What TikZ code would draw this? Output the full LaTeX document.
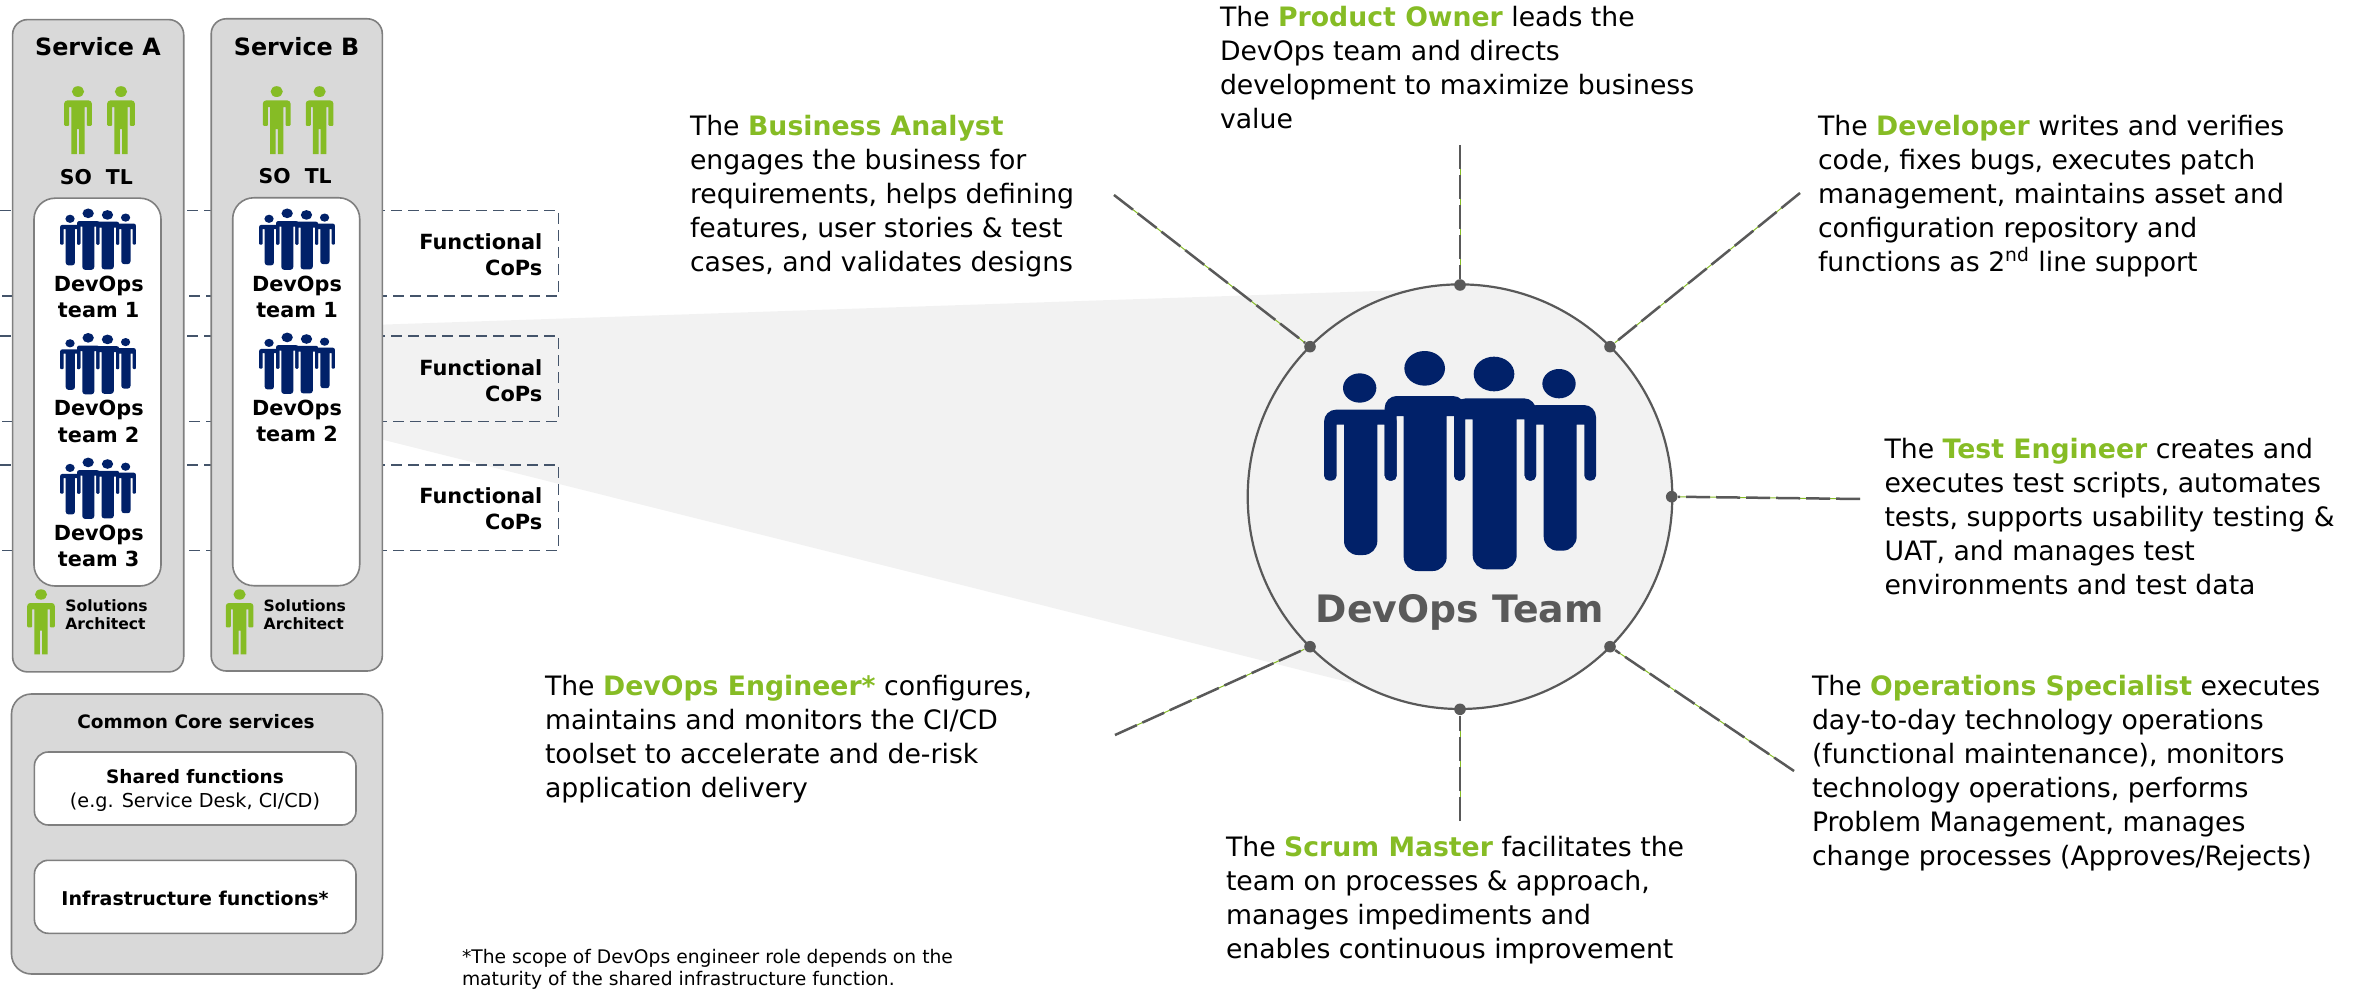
\documentclass[tikz,border=0pt]{standalone}
\usepackage{fontspec}
\setmainfont{DejaVu Sans}
\definecolor{gr}{HTML}{86BC25}
\definecolor{navy}{HTML}{012169}
\definecolor{dk}{HTML}{595959}
\definecolor{panel}{HTML}{D9D9D9}
\definecolor{pale}{HTML}{F2F2F2}
\definecolor{edge}{HTML}{7F7F7F}
\definecolor{cop}{HTML}{44546A}
\newcommand{\fsz}[2]{\fontsize{#1}{#2}\selectfont}
\newcommand{\hl}[1]{\textbf{\textcolor{gr}{#1}}}
\newcommand{\person}[9]{% aLo aLi tL tR aRi aRo shoulder armpit bottom
 \fill (#1,640) [rounded corners=\rs] -- (#1,#7) -- (#6,#7) [sharp corners] -- (#6,640) [rounded corners=\ra] -- (#6,692) -- (#5,692) [sharp corners] -- (#5,#8) -- (#4,#8) [rounded corners=\rb] -- (#4,#9) -- (#3,#9) [sharp corners] -- (#3,#8) -- (#2,#8) [rounded corners=\ra] -- (#2,692) -- (#1,692) [sharp corners] -- cycle;
}
% \teamicon{origin x}{origin y}{unit}{rs}{ra}{rb}
\newcommand{\teamicon}[6]{%
 \begin{scope}[shift={(#1,#2)},x=#3,y=-#3,fill=navy]
  \def\rs{#4}\def\ra{#5}\def\rb{#6}
  \fill (479,414) ellipse [x radius=50,y radius=44];
  \fill (674,355) ellipse [x radius=61,y radius=52];
  \fill (882,372) ellipse [x radius=61,y radius=52];
  \fill (1077,401) ellipse [x radius=50,y radius=44];
  \person{372}{410}{432}{532}{554}{590}{479}{524}{915}
  \person{554}{590}{611}{740}{762}{795}{438}{498}{963}
  \person{762}{795}{818}{950}{974}{1008}{445}{508}{958}
  \person{974}{1008}{1031}{1130}{1153}{1188}{465}{524}{902}
 \end{scope}}
\newcommand{\smallteam}[2]{\teamicon{#1}{#2}{0.04645pt}{1.1pt}{.5pt}{1.4pt}}
% \greenperson{centre x}{top y}{y scale}
\newcommand{\greenperson}[3]{%
 \begin{scope}[shift={(#1,#2)},yscale=#3]
  \fill[gr] (0,5.4) ellipse [x radius=6.1,y radius=5.4];
  \fill[gr] (-13.8,30) [rounded corners=1.5pt] -- (-13.8,14.3) -- (13.8,14.3) [sharp corners] -- (13.8,30) [rounded corners=.5pt] -- (13.8,39.7) -- (8.8,39.7) [sharp corners] -- (8.8,21) -- (6.7,21) -- (6.7,67.9) -- (1.1,67.9) -- (1.1,43) -- (-1.1,43) -- (-1.1,67.9) -- (-6.7,67.9) -- (-6.7,21) -- (-8.8,21) [rounded corners=.5pt] -- (-8.8,39.7) -- (-13.8,39.7) [sharp corners] -- cycle;
 \end{scope}}
\tikzset{
 x=0.5pt,y=-0.5pt,
 panelbox/.style={draw=edge,line width=.8pt,fill=panel,rounded corners=#1},
 whitebox/.style={draw=edge,line width=.8pt,fill=white,rounded corners=#1},
 copline/.style={draw=cop,line width=.75pt,dash pattern=on 5.5pt off 3pt},
 lab/.style={inner sep=0pt,outer sep=0pt,text=black,align=center},
 blab/.style={lab,font=\bfseries\fsz{10.4}{13.2}},
 sol/.style={inner sep=0pt,text=black,align=left,anchor=west,font=\bfseries\fsz{7.8}{9.4}},
 copt/.style={inner sep=0pt,text=black,align=right,anchor=east,font=\bfseries\fsz{10.45}{13.1}},
 role/.style={inner sep=0pt,outer sep=0pt,anchor=north west,align=left,text=black,font=\fsz{13.35}{17}},
 hub/.style={circle,fill=dk,inner sep=0pt,minimum size=5.8pt},
 spokeunder/.style={draw=gr,line width=.5pt},
 spoke/.style={draw=dk,line width=1.25pt,dash pattern=on 12pt off 3pt},
}
\begin{document}
\begin{tikzpicture}
\useasboundingbox (0,0) rectangle (2362,994);
% funnel towards the circle
\fill[pale] (382.7,324.6) -- (1407,290) -- (1360,685) -- (382.7,439.7) -- cycle;
% Functional CoP bands
\draw[copline] (0,210.7) -- (558.7,210.7) -- (558.7,296) -- (0,296);
\draw[copline] (0,336.2) -- (558.7,336.2) -- (558.7,421.4) -- (0,421.4);
\draw[copline] (0,465.2) -- (558.7,465.2) -- (558.7,550.4) -- (0,550.4);
\node[copt] (copa) at (542.7,254.5) {Functional\\CoPs};
\node[copt] (copb) at (542.7,380.5) {Functional\\CoPs};
\node[copt] (copc) at (542.7,509) {Functional\\CoPs};
% service panels
\draw[panelbox=7.5pt] (12.6,19.6) rectangle (183.7,671.9);
\draw[panelbox=7.5pt] (211.2,18.8) rectangle (382.3,671);
\draw[whitebox=10.5pt] (34,198.2) rectangle (161,586);
\draw[whitebox=10.5pt] (232.7,197.8) rectangle (359.7,585.7);
\node[lab,font=\bfseries\fsz{11.9}{14}] (sa) at (98,46.9) {Service A};
\node[lab,font=\bfseries\fsz{11.9}{14}] (sb) at (296.6,46.4) {Service B};
\greenperson{78}{86.2}{1}\greenperson{121}{86.2}{1}
\greenperson{276.7}{86.2}{1}\greenperson{319.6}{86.2}{1}
\node[lab,font=\bfseries\fsz{10.2}{12}] (sota) at (96.3,176.9) {SO\hspace{7pt}TL};
\node[lab,font=\bfseries\fsz{10.2}{12}] (sotb) at (295.2,176.3) {SO\hspace{7pt}TL};
% small team icons
\smallteam{25.55}{180.35}
\smallteam{25.55}{304.85}
\smallteam{25.55}{429.45}
\smallteam{224.55}{180.35}
\smallteam{224.55}{304.45}
\node[blab] (a1) at (98.7,297) {DevOps\\team 1};
\node[blab] (a2) at (98.7,421.5) {DevOps\\team 2};
\node[blab] (a3) at (98.7,546) {DevOps\\team 3};
\node[blab] (b1) at (297,297) {DevOps\\team 1};
\node[blab] (b2) at (297,421) {DevOps\\team 2};
\greenperson{41}{589.3}{.96}\greenperson{239.6}{589.3}{.96}
\node[sol] (saa) at (65,614.7) {Solutions\\Architect};
\node[sol] (sab) at (263.3,614.7) {Solutions\\Architect};
% common core
\draw[panelbox=10pt] (11.5,694) rectangle (382.6,974);
\draw[whitebox=7pt] (34.4,752) rectangle (356,825);
\draw[whitebox=7pt] (34.4,860.3) rectangle (356,933.3);
\node[lab,font=\bfseries\fsz{9.25}{10}] (cc) at (196,721.7) {Common Core services};
\node[lab,font=\fsz{9.6}{12.4}] (sf) at (195,790.5) {{\bfseries\fsz{9.25}{12.4}Shared functions}\\(e.g. Service Desk, CI/CD)};
\node[lab,font=\bfseries\fsz{9.5}{10}] (inf) at (195,898) {Infrastructure functions*};
% circle
\node[circle,draw=dk,line width=1.1pt,fill=pale,inner sep=0pt,minimum size=212.3pt] (c) at (1460,496.7) {};
\teamicon{1200}{250}{0.16667pt}{6pt}{2.5pt}{7pt}
\node[lab,text=dk,font=\bfseries\fsz{18.9}{20}] (dt) at (1459.7,612) {DevOps Team};
% hubs and spokes
\node[hub] (h1) at (1460,285) {};
\node[hub] (h2) at (1610,346.7) {};
\node[hub] (h3) at (1671.7,496.7) {};
\node[hub] (h4) at (1610,646.7) {};
\node[hub] (h5) at (1460,709.3) {};
\node[hub] (h6) at (1310,646.7) {};
\node[hub] (h7) at (1310,346.7) {};
\coordinate (e1) at (1460,145);
\coordinate (e2) at (1800,193);
\coordinate (e3) at (1860,499);
\coordinate (e4) at (1794,771);
\coordinate (e5) at (1460,821);
\coordinate (e6) at (1115,735);
\coordinate (e7) at (1114,195);
\foreach \i in {1,...,7}{
 \draw[spokeunder] (h\i) -- (e\i);
 \draw[spoke] (e\i) -- (h\i);
}
% role texts
\node[role] (po) at (1220,6) {The \hl{Product Owner} leads the\\DevOps team and directs\\development to maximize business\\value};
\node[role] (ba) at (690,115.5) {The \hl{Business Analyst}\\engages the business for\\requirements, helps defining\\features, user stories \& test\\cases, and validates designs};
\node[role] (dev) at (1818,115.5) {The \hl{Developer} writes and verifies\\code, fixes bugs, executes patch\\management, maintains asset and\\configuration repository and\\functions as 2\textsuperscript{nd} line support};
\node[role] (te) at (1884.5,438.5) {The \hl{Test Engineer} creates and\\executes test scripts, automates\\tests, supports usability testing \&\\UAT, and manages test\\environments and test data};
\node[role] (ops) at (1812,675) {The \hl{Operations Specialist} executes\\day-to-day technology operations\\(functional maintenance), monitors\\technology operations, performs\\Problem Management, manages\\change processes (Approves/Rejects)};
\node[role] (sm) at (1226,836.5) {The \hl{Scrum Master} facilitates the\\team on processes \& approach,\\manages impediments and\\enables continuous improvement};
\node[role] (de) at (545,675) {The \hl{DevOps Engineer*} configures,\\maintains and monitors the CI/CD\\toolset to accelerate and de-risk\\application delivery};
\node[role,font=\fsz{9.36}{11.35}] (fn) at (462,949) {*The scope of DevOps engineer role depends on the\\maturity of the shared infrastructure function.};
\end{tikzpicture}
\end{document}
